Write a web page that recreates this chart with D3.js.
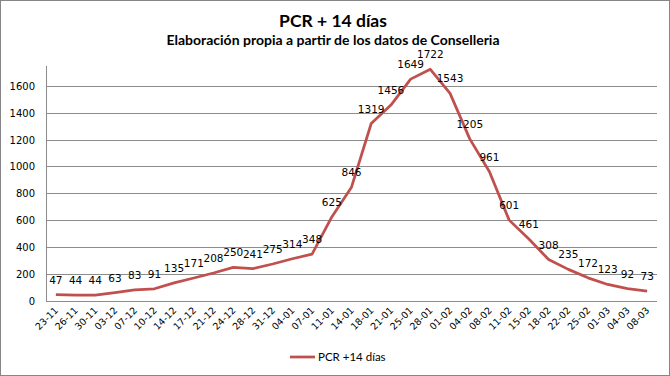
<!DOCTYPE html>
<html>
<head>
<meta charset="utf-8">
<script src="https://cdn.jsdelivr.net/npm/d3@7"></script>
<style>
  body { margin: 0; background: #fff; }
</style>
</head>
<body>
<div id="chart"></div>
<script>
// ---- data ----
const fechas = ["23-11","26-11","30-11","03-12","07-12","10-12","14-12","17-12","21-12","24-12",
  "28-12","31-12","04-01","07-01","11-01","14-01","18-01","21-01","25-01","28-01",
  "01-02","04-02","08-02","11-02","15-02","18-02","22-02","25-02","01-03","04-03","08-03"];
const casos = [47,44,44,63,83,91,135,171,208,250,241,275,314,348,625,846,1319,1456,1649,1722,
  1543,1205,961,601,461,308,235,172,123,92,73];
const yTicks = [0,200,400,600,800,1000,1200,1400,1600];

const width = 670, height = 376;
const plot = { left: 46, right: 657, top: 66, bottom: 301 };

const svg = d3.select("#chart").append("svg")
  .attr("width", width).attr("height", height);

// outer frame
svg.append("rect")
  .attr("x", 0.5).attr("y", 0.5)
  .attr("width", width - 1).attr("height", height - 1)
  .attr("fill", "#fff").attr("stroke", "#868686");

// scales
const x = d3.scaleBand().domain(fechas).range([plot.left, plot.right]);
const y = d3.scaleLinear().domain([0, 1600]).range([plot.bottom, 85.7]);
const cx = d => x(d) + x.bandwidth() / 2;

// gridlines
svg.append("g").selectAll("line")
  .data(yTicks.filter(t => t > 0))
  .join("line")
  .attr("x1", plot.left).attr("x2", plot.right)
  .attr("y1", d => Math.round(y(d)) + 0.5).attr("y2", d => Math.round(y(d)) + 0.5)
  .attr("stroke", "#8c8c8c");

// axes lines
svg.append("line")
  .attr("x1", plot.left + 0.5).attr("x2", plot.left + 0.5)
  .attr("y1", plot.top).attr("y2", plot.bottom)
  .attr("stroke", "#8c8c8c");
svg.append("line")
  .attr("x1", plot.left).attr("x2", plot.right)
  .attr("y1", plot.bottom + 0.5).attr("y2", plot.bottom + 0.5)
  .attr("stroke", "#8c8c8c");

// y tick labels
svg.append("g").selectAll("text")
  .data(yTicks)
  .join("text")
  .attr("x", 35).attr("y", d => y(d) + 4)
  .attr("text-anchor", "end")
  .style("font-family", "DejaVu Sans")
  .style("font-size", "10px")
  .text(d => d);

// x tick labels, rotated
svg.append("g").selectAll("text")
  .data(fechas)
  .join("text")
  .attr("transform", d => `translate(${cx(d) + 3},${plot.bottom + 10}) rotate(-45)`)
  .attr("text-anchor", "end")
  .style("font-family", "DejaVu Sans")
  .style("font-size", "9.5px")
  .text(d => d);

// line
const line = d3.line()
  .x((d, i) => cx(fechas[i]))
  .y(d => y(d));

svg.append("path")
  .datum(casos)
  .attr("d", line)
  .attr("fill", "none")
  .attr("stroke", "#c0504d")
  .attr("stroke-width", 2.75)
  .attr("stroke-linejoin", "round");

// data labels
svg.append("g").selectAll("text")
  .data(casos)
  .join("text")
  .attr("x", (d, i) => cx(fechas[i]))
  .attr("y", d => y(d) - 11)
  .attr("text-anchor", "middle")
  .style("font-family", "DejaVu Sans")
  .style("font-size", "10.5px")
  .text(d => d);

// titles
svg.append("text")
  .attr("x", 333).attr("y", 27)
  .attr("text-anchor", "middle")
  .style("font-family", "Lato").style("font-weight", "bold")
  .style("font-size", "17.5px")
  .text("PCR + 14 días");

svg.append("text")
  .attr("x", 333).attr("y", 45)
  .attr("text-anchor", "middle")
  .style("font-family", "Lato").style("font-weight", "bold")
  .style("font-size", "14px")
  .text("Elaboración propia a partir de los datos de Conselleria");

// legend
svg.append("line")
  .attr("x1", 290).attr("x2", 315)
  .attr("y1", 357).attr("y2", 357)
  .attr("stroke", "#c0504d").attr("stroke-width", 2.75);
svg.append("text")
  .attr("x", 318).attr("y", 361)
  .style("font-family", "Lato")
  .style("font-size", "11.5px")
  .text("PCR +14 días");
</script>
</body>
</html>
